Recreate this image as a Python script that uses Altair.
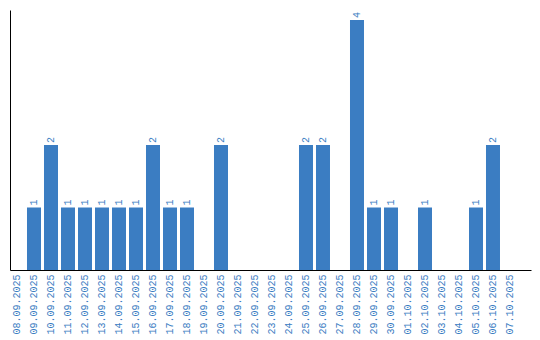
import altair as alt
import pandas as pd

dates = ["08.09.2025", "09.09.2025", "10.09.2025", "11.09.2025", "12.09.2025",
         "13.09.2025", "14.09.2025", "15.09.2025", "16.09.2025", "17.09.2025",
         "18.09.2025", "19.09.2025", "20.09.2025", "21.09.2025", "22.09.2025",
         "23.09.2025", "24.09.2025", "25.09.2025", "26.09.2025", "27.09.2025",
         "28.09.2025", "29.09.2025", "30.09.2025", "01.10.2025", "02.10.2025",
         "03.10.2025", "04.10.2025", "05.10.2025", "06.10.2025", "07.10.2025"]
counts = [0, 1, 2, 1, 1, 1, 1, 1, 2, 1,
          1, 0, 2, 0, 0, 0, 0, 2, 2, 0,
          4, 1, 1, 0, 1, 0, 0, 1, 2, 0]

BLUE = "#3b7dc2"
FONT = "Liberation Mono"
df = pd.DataFrame({"date": dates, "count": counts})
df_pos = df[df["count"] > 0]

x_enc = alt.X("date:N", sort=dates,
              scale=alt.Scale(domain=dates, paddingInner=3/17, paddingOuter=0.412, align=0),
              axis=alt.Axis(title=None, labelAngle=-90, labelAlign="right", labelBaseline="middle",
                            labelFont=FONT, labelFontSize=10, labelColor=BLUE,
                            labelPadding=4, ticks=False, domainColor="black", domainWidth=1,
                            labelOverlap=False, grid=False))
y_scale = alt.Scale(domain=[0, 4.16], nice=False, zero=True)

base = alt.Chart(df_pos)
bars = base.mark_bar(color=BLUE).encode(
    x=x_enc,
    y=alt.Y("count:Q", scale=y_scale,
            axis=alt.Axis(title=None, labels=False, ticks=False, grid=False,
                          domainColor="black", domainWidth=1)),
)
labels = base.mark_text(angle=270, align="left", baseline="middle", dx=2,
                        font=FONT, fontSize=10, color=BLUE).encode(
    x=alt.X("date:N", sort=dates, bandPosition=0.5),
    y=alt.Y("count:Q", scale=y_scale),
    text=alt.Text("count:Q"),
)

chart = alt.layer(bars, labels).properties(
    width=521, height=260,
    background="white",
    padding={"left": 10, "top": 10, "right": 9, "bottom": 70},
    autosize=alt.AutoSizeParams(type="none"),
).configure_view(strokeWidth=0)

chart.save("out.html", embed_options={"renderer": "svg", "actions": False})
